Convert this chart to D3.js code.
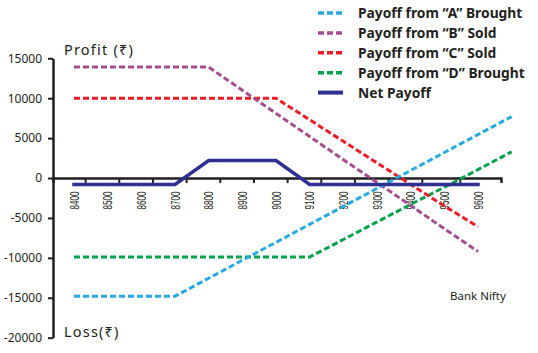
<!DOCTYPE html>
<html>
<head>
<meta charset="utf-8">
<script src="https://cdn.jsdelivr.net/npm/d3@7"></script>
<style>
    body { margin: 0; background: #fff; }
    svg { display: block; }
    .ylab { font-family: "Noto Sans", "Open Sans", sans-serif; font-size: 12px; fill: #231f20; }
    .xlab { font-family: "Liberation Sans", Arial, sans-serif; font-size: 13px; fill: #231f20; }
    .legend-text { font-family: "Noto Sans", "Open Sans", sans-serif; font-size: 13.8px; font-weight: bold; fill: #231f20; }
    .axis-title { font-family: "Noto Sans", "DejaVu Sans", sans-serif; font-size: 14.5px; letter-spacing: 1.2px; fill: #231f20; }
    .note { font-family: "Noto Sans", "Open Sans", sans-serif; font-size: 11.5px; fill: #231f20; }
</style>
</head>
<body>
<div id="chart"></div>
<script>
// Strike prices (x categories). 9700 only carries the end of the two bought legs.
let strikes = [8400, 8500, 8600, 8700, 8800, 8900, 9000, 9100, 9200, 9300, 9400, 9500, 9600, 9700];
let xLabels = [8400, 8500, 8600, 8700, 8800, 8900, 9000, 9100, 9200, 9300, 9400, 9500, 9600];
let xTicks = [8433, 8533, 8633, 8733, 8833, 8933, 9033, 9133, 9233, 9333, 9433, 9546];
let yTicks = [15000, 10000, 5000, 0, -5000, -10000, -15000, -20000];

// Payoff values, one per strike.
let payoffA = [-14800, -14800, -14800, -14800, -12550, -10300, -8050, -5800, -3550, -1300, 950, 3200, 5450, 7700];
let payoffB = [13900, 13900, 13900, 13900, 13900, 11000, 8100, 5200, 2300, -550, -3450, -6350, -9200, null];
let payoffC = [10000, 10000, 10000, 10000, 10000, 10000, 10000, 7300, 4600, 1900, -800, -3500, -6100, null];
let payoffD = [-9900, -9900, -9900, -9900, -9900, -9900, -9900, -9900, -7700, -5500, -3300, -1150, 1050, 3300];
let netPayoff = [-800, -800, -800, -800, 2200, 2200, 2200, -800, -800, -800, -800, -800, -800, null];

let seriesNames = ["Payoff from \u201cA\u201d Brought", "Payoff from \u201cB\u201d Sold", "Payoff from \u201cC\u201d Sold", "Payoff from \u201cD\u201d Brought", "Net Payoff"];
let seriesColors = ["#27aae1", "#a64d8e", "#ed1c24", "#00a14b", "#2e3192"];

let width = 538;
let height = 353;

let svg = d3.select("#chart")
    .append("svg")
    .attr("width", width)
    .attr("height", height);

let x = d3.scaleLinear().domain([8400, 9600]).range([74, 478]);
let y = d3.scaleLinear().domain([-20000, 15000]).range([337.7, 58.3]);

// Axis scale covering the full drawn x axis line.
let xAxisScale = d3.scaleLinear().domain([x.invert(53), x.invert(501)]).range([53, 501]);

// X axis sits on zero.
let xAxis = svg.append("g")
    .attr("transform", "translate(0," + y(0) + ")")
    .call(d3.axisBottom(xAxisScale).tickValues(xTicks).tickSize(5).tickSizeOuter(5).tickFormat(""));

// Y axis.
let yAxis = svg.append("g")
    .attr("transform", "translate(53,0)")
    .call(d3.axisLeft(y).tickValues(yTicks).tickSize(5).tickSizeOuter(0).tickPadding(6).tickFormat(d => String(d)));

yAxis.selectAll("text").attr("class", "ylab").attr("font-family", null).attr("font-size", null);

[xAxis, yAxis].forEach(function(g) {
    g.select(".domain").attr("stroke", "#231f20").attr("stroke-width", 2.5);
    g.selectAll(".tick line").attr("stroke", "#231f20").attr("stroke-width", 2);
});

// Rotated strike labels under the axis.
svg.append("g")
    .selectAll("text")
    .data(xLabels)
    .enter()
    .append("text")
    .attr("class", "xlab")
    .attr("transform", d => "translate(" + x(d) + "," + (y(0) + 13.5) + ") rotate(-90)")
    .attr("text-anchor", "end")
    .attr("dy", "0.35em")
    .attr("textLength", 18)
    .attr("lengthAdjust", "spacingAndGlyphs")
    .text(d => d);

// Lines.
let line = d3.line()
    .defined(d => d.value !== null)
    .x(d => x(d.strike))
    .y(d => y(d.value));

let allSeries = [payoffD, payoffC, payoffB, payoffA, netPayoff];
let order = [3, 2, 1, 0, 4];

allSeries.forEach(function(values, i) {
    let idx = order[i];
    let pts = strikes.map((s, j) => ({ strike: s, value: values[j] }));
    let isNet = idx === 4;
    svg.append("path")
        .datum(pts)
        .attr("d", line)
        .attr("fill", "none")
        .attr("stroke", seriesColors[idx])
        .attr("stroke-width", isNet ? 3.5 : 3)
        .attr("stroke-dasharray", isNet ? null : "6,3")
        .attr("stroke-linecap", isNet ? "square" : "butt")
        .attr("stroke-linejoin", "miter");
});

// Legend.
let legend = svg.append("g");
let items = legend.selectAll("g")
    .data(seriesNames)
    .enter()
    .append("g")
    .attr("transform", (d, i) => "translate(318," + (13 + i * 19.9) + ")");

items.append("line")
    .attr("x1", 0)
    .attr("x2", 25)
    .attr("stroke", (d, i) => seriesColors[i])
    .attr("stroke-width", (d, i) => i === 4 ? 4 : 3.5)
    .attr("stroke-dasharray", (d, i) => i === 4 ? null : "6,3");

items.append("text")
    .attr("class", "legend-text")
    .attr("x", 40)
    .attr("y", 5)
    .text(d => d);

// Axis titles and note.
svg.append("text").attr("class", "axis-title").attr("x", 64).attr("y", 55).text("Profit (\u20b9)");
svg.append("text").attr("class", "axis-title").attr("x", 64).attr("y", 337).text("Loss(\u20b9)");
svg.append("text").attr("class", "note").attr("x", 450).attr("y", 300).text("Bank Nifty");
</script>
</body>
</html>
